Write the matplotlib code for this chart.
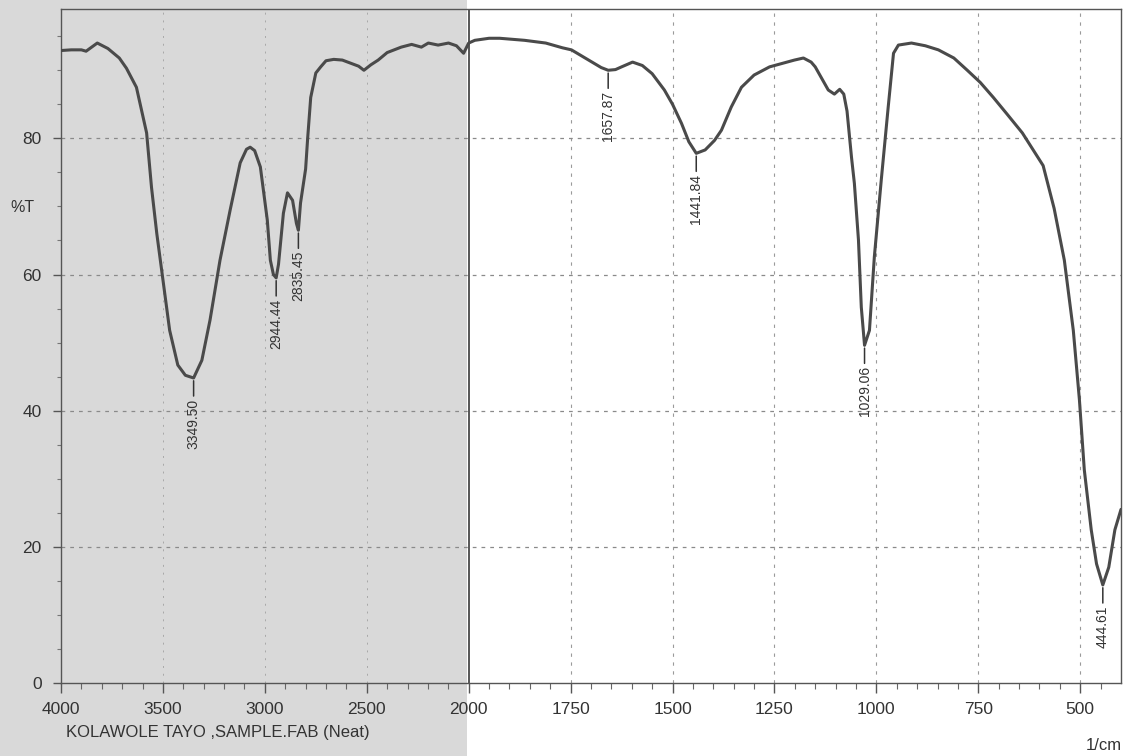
import numpy as np
import matplotlib
matplotlib.use("Agg")
import matplotlib.pyplot as plt
from matplotlib.patches import Rectangle
from matplotlib.ticker import FixedLocator, NullFormatter

plt.rcParams['font.family'] = ['Liberation Sans', 'DejaVu Sans']

# ---------------- data ----------------
wavenumber = [4000, 3950, 3900, 3877, 3822, 3770, 3714, 3679, 3630, 3580, 3556,
              3530, 3506, 3467, 3427, 3390, 3349.5, 3309, 3269, 3220, 3170,
              3121, 3090, 3072, 3050, 3022, 2988, 2973, 2958, 2944.44, 2933,
              2909, 2889, 2864, 2845, 2835.45, 2825, 2800, 2790, 2775, 2750,
              2726, 2700, 2662, 2620, 2593, 2540, 2514, 2480, 2444, 2400, 2331,
              2280, 2232, 2198, 2150, 2099, 2060, 2025, 2010, 2000,
              1985, 1950, 1924, 1863, 1811, 1770, 1748, 1706, 1675, 1657.87,
              1640, 1625, 1598, 1574, 1550, 1520, 1500, 1478, 1460, 1441.84,
              1420, 1397, 1380, 1356, 1331, 1300, 1262, 1201, 1179, 1160, 1150,
              1118, 1103, 1090, 1080, 1072, 1061, 1054, 1044, 1037, 1029.06,
              1017, 1005, 988, 971, 958, 946, 914, 880, 848, 810, 777, 745, 713,
              680, 642, 610, 591, 564, 539, 517, 502, 490, 473, 460, 444.61,
              430, 415, 400]
transmittance = [92.9, 93.0, 93.0, 92.8, 94.0, 93.2, 91.8, 90.3, 87.5, 80.8, 72.8,
                 66.0, 60.6, 51.8, 46.7, 45.2, 44.8, 47.4, 53.3, 62.1, 69.5,
                 76.4, 78.4, 78.7, 78.2, 75.8, 68.0, 62.1, 60.0, 59.5, 61.5,
                 69.0, 72.0, 70.9, 67.5, 66.5, 70.5, 75.5, 80.0, 86.0, 89.6,
                 90.5, 91.4, 91.6, 91.5, 91.2, 90.6, 90.0, 90.8, 91.5, 92.6, 93.4,
                 93.8, 93.4, 94.0, 93.7, 94.0, 93.6, 92.5, 93.4, 94.0,
                 94.4, 94.7, 94.7, 94.4, 94.0, 93.3, 93.0, 91.5, 90.4, 90.0,
                 90.1, 90.5, 91.2, 90.7, 89.5, 87.1, 85.0, 82.2, 79.5, 77.8,
                 78.3, 79.7, 81.2, 84.6, 87.5, 89.3, 90.5, 91.5, 91.8, 91.2, 90.5,
                 87.1, 86.5, 87.2, 86.5, 84.0, 77.2, 73.4, 65.1, 55.2, 49.6,
                 51.8, 62.6, 73.9, 84.6, 92.5, 93.7, 94.0, 93.6, 93.0, 91.8, 90.0,
                 88.2, 86.0, 83.6, 80.8, 77.8, 76.0, 69.7, 62.1, 51.8, 41.6, 31.3,
                 22.5, 17.5, 14.4, 17.0, 22.5, 25.5]

peak_positions = [3349.50, 2944.44, 2835.45, 1657.87, 1441.84, 1029.06, 444.61]
peak_values = [44.8, 59.5, 66.5, 90.0, 77.8, 49.6, 14.4]
peak_labels = ["3349.50", "2944.44", "2835.45", "1657.87", "1441.84", "1029.06", "444.61"]

x_major = [4000, 3500, 3000, 2500, 2000, 1750, 1500, 1250, 1000, 750, 500]
x_minor = list(range(3900, 2000, -100)) + list(range(1950, 400, -50))
y_major = [0, 20, 40, 60, 80]
y_minor = list(range(5, 100, 5))
grid_x_left = [3500, 3000, 2500]
grid_x_right = [1750, 1500, 1250, 1000, 750, 500]
grid_y = [20, 40, 60, 80]

# ---------------- piecewise x scale (scale doubles below 2000 1/cm) ----------------
def fwd(x):
    x = np.asarray(x, dtype=float)
    return np.where(x >= 2000, x / 2.0 + 1000.0, x)

def inv(u):
    u = np.asarray(u, dtype=float)
    return np.where(u >= 2000, (u - 1000.0) * 2.0, u)

fig = plt.figure(figsize=(11.23, 7.56), dpi=100)
fig.patch.set_facecolor('white')
# greyish scanned paper on left half (drawn beneath the axes)
fig.patches.append(Rectangle((0, 0), 467 / 1123, 1, transform=fig.transFigure,
                             facecolor='#d9d9d9', edgecolor='none', zorder=-5))

ax = fig.add_axes([61 / 1123, (756 - 683) / 756, (1121 - 61) / 1123, (683 - 9) / 756])
ax.set_zorder(2)
ax.set_facecolor('none')
ax.set_xscale('function', functions=(fwd, inv))
ax.set_xlim(4000, 400)
ax.set_ylim(0, 99)

line_col = '#4a4a4a'
ax.plot(wavenumber, transmittance, color=line_col, lw=2.2, zorder=5,
        solid_joinstyle='round', solid_capstyle='round')

# grid
for gx in grid_x_left:
    ax.axvline(gx, color='#a8a8a8', lw=0.7, ls=(0, (2, 6)), zorder=1)
for gx in grid_x_right:
    ax.axvline(gx, color='#9a9a9a', lw=0.8, ls=(0, (3, 5)), zorder=1)
for gy in grid_y:
    ax.axhline(gy, color='#8a8a8a', lw=0.9, ls=(0, (3, 4)), zorder=1)
ax.axvline(2000, color='#3a3a3a', lw=1.2, zorder=2)

# ticks
ax.xaxis.set_major_locator(FixedLocator(x_major))
ax.xaxis.set_minor_locator(FixedLocator(x_minor))
ax.xaxis.set_minor_formatter(NullFormatter())
ax.set_xticklabels([str(v) for v in x_major])
ax.yaxis.set_major_locator(FixedLocator(y_major))
ax.yaxis.set_minor_locator(FixedLocator(y_minor))
ax.tick_params(axis='x', which='major', direction='out', length=7, width=1,
               color='#555555', labelsize=12.5, pad=7, labelcolor='#333333')
ax.tick_params(axis='x', which='minor', direction='out', length=4, width=0.8,
               color='#666666')
ax.tick_params(axis='y', which='major', direction='out', length=6, width=1,
               color='#555555', labelsize=12.5, pad=8, labelcolor='#333333')
ax.tick_params(axis='y', which='minor', direction='out', length=3, width=0.8,
               color='#777777')
for s in ax.spines.values():
    s.set_color('#555555')
    s.set_linewidth(1.0)

# peak annotations
for px, pv, lab in zip(peak_positions, peak_values, peak_labels):
    ax.annotate(lab, xy=(px, pv), xytext=(0, -15), textcoords='offset points',
                rotation=90, ha='center', va='top', fontsize=10, color='#333333',
                arrowprops=dict(arrowstyle='-', color='#333333', lw=1.1,
                                shrinkA=0, shrinkB=2), zorder=6)

fig.text(22 / 1123, 1 - 208 / 756, '%T', fontsize=11.5, color='#333333',
         ha='center', va='center')
fig.text(66 / 1123, 1 - 733 / 756, 'KOLAWOLE TAYO ,SAMPLE.FAB (Neat)', fontsize=12,
         color='#333333', ha='left', va='center')
fig.text(1104 / 1123, 1 - 745 / 756, '1/cm', fontsize=12, color='#333333',
         ha='center', va='center')

fig.savefig('out.png', dpi=100)
